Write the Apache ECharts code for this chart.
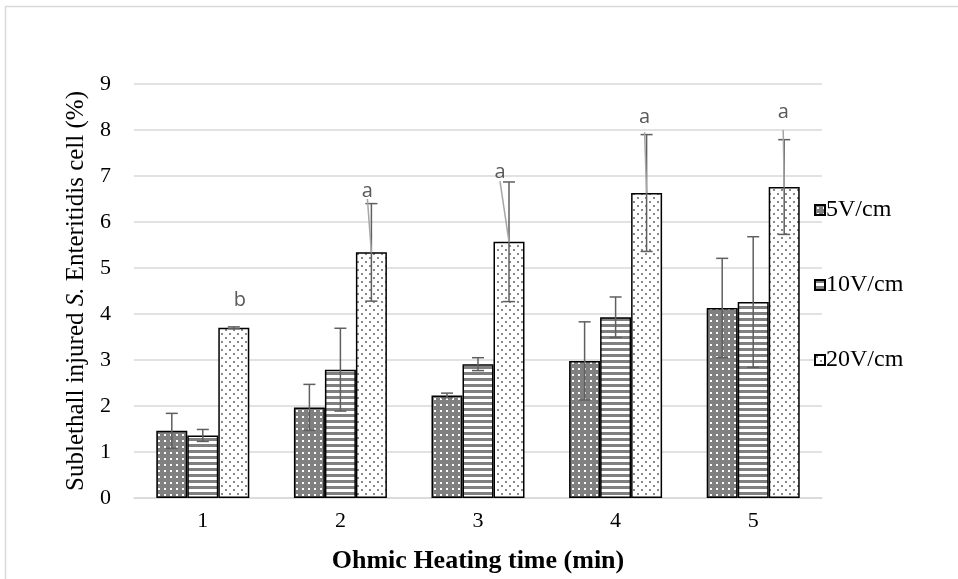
<!DOCTYPE html>
<html><head><meta charset="utf-8">
<script src="https://cdn.jsdelivr.net/npm/echarts@6/dist/echarts.min.js"></script>
<style>html,body{margin:0;padding:0;background:#fff}#c{width:958px;height:579px}</style>
</head><body><div id="c"></div>
<script>
// ---- data ----
const categories = ['1', '2', '3', '4', '5'];
const seriesNames = ['5V/cm', '10V/cm', '20V/cm'];
const v5  = [1.46, 1.97, 2.23, 2.98, 4.13];
const v10 = [1.36, 2.79, 2.91, 3.93, 4.26];
const v20 = [3.70, 5.34, 5.57, 6.63, 6.76];
const e5  = [0.38, 0.50, 0.05, 0.85, 1.08];
const e10 = [0.13, 0.90, 0.14, 0.44, 1.42];
const e20 = [0.02, 1.06, 1.30, 1.27, 1.03];
const letters = ['b', 'a', 'a', 'a', 'a'];
const letterValues = [4.29, 6.67, 7.08, 8.27, 8.38];
const leaderFrom = [null, 6.50, 6.89, 7.95, 8.00];
const yMin = 0, yMax = 9, yStep = 1;
const xTitle = 'Ohmic Heating time (min)';

// ---- styles ----
const BAR_W = 31;
const letterDx = [6, -4, -9, -2, -1];
const SERIF = '"Liberation Serif","Times New Roman",serif';

function pattern(kind) {
  const c = document.createElement('canvas');
  const ctx = c.getContext('2d');
  if (kind === 0) {
    c.width = 6; c.height = 6;
    ctx.fillStyle = '#808080'; ctx.fillRect(0, 0, 6, 6);
    ctx.fillStyle = '#ffffff'; ctx.fillRect(2, 2, 2, 2);
  } else if (kind === 1) {
    c.width = 6; c.height = 6;
    ctx.fillStyle = '#ffffff'; ctx.fillRect(0, 0, 6, 6);
    ctx.fillStyle = '#808080'; ctx.fillRect(0, 0, 6, 3);
  } else {
    c.width = 8; c.height = 8;
    ctx.fillStyle = '#ffffff'; ctx.fillRect(0, 0, 8, 8);
    ctx.fillStyle = '#8a8a8a';
    ctx.fillRect(1, 1, 2, 2); ctx.fillRect(5, 5, 2, 2);
  }
  return { image: c, repeat: 'repeat' };
}

const values = [v5, v10, v20];
const errs = [e5, e10, e20];

const barSeries = values.map((vals, s) => ({
  name: seriesNames[s],
  type: 'bar',
  data: vals,
  barWidth: BAR_W,
  barGap: '0%',
  itemStyle: { color: pattern(s), borderColor: '#000', borderWidth: 1.5 },
  emphasis: { disabled: true },
  z: 2
}));

const errSeries = values.map((vals, s) => ({
  type: 'custom',
  data: vals.map((v, i) => [i, v, errs[s][i]]),
  z: 5,
  silent: true,
  renderItem: function (params, api) {
    const i = api.value(0), v = api.value(1), e = api.value(2);
    const off = (params.seriesIndex - 3 - 1) * BAR_W;
    const top = api.coord([i, v + e]);
    const bot = api.coord([i, v - e]);
    const x = top[0] + off;
    const cap = 6;
    const st = { stroke: '#5f5f5f', lineWidth: 1.5 };
    return {
      type: 'group',
      children: [
        { type: 'line', shape: { x1: x, y1: top[1], x2: x, y2: bot[1] }, style: st },
        { type: 'line', shape: { x1: x - cap, y1: top[1], x2: x + cap, y2: top[1] }, style: st },
        { type: 'line', shape: { x1: x - cap, y1: bot[1], x2: x + cap, y2: bot[1] }, style: st }
      ]
    };
  }
}));

const letterSeries = {
  type: 'custom',
  data: letters.map((t, i) => [i, letterValues[i], v20[i], leaderFrom[i] == null ? NaN : leaderFrom[i]]),
  z: 6,
  silent: true,
  renderItem: function (params, api) {
    const i = api.value(0);
    const lp = api.coord([i, api.value(1)]);
    const bt = api.coord([i, api.value(2)]);
    const lx = lp[0] + BAR_W + letterDx[i];
    const bx = bt[0] + BAR_W;
    const children = [{
      type: 'text',
      style: { text: letters[i], x: lx, y: lp[1], align: 'center', verticalAlign: 'middle',
        fill: '#595959', font: '20px "Open Sans","Liberation Sans",sans-serif' }
    }];
    const lf = api.value(3);
    if (!isNaN(lf)) {
      const ls = api.coord([i, lf]);
      children.push({ type: 'line', shape: { x1: lx, y1: ls[1], x2: bx, y2: bt[1] },
        style: { stroke: '#a6a6a6', lineWidth: 1.5 } });
    }
    return { type: 'group', children };
  }
};

const chart = echarts.init(document.getElementById('c'));
chart.setOption({
  animation: false,
  backgroundColor: '#fff',
  graphic: [{
    type: 'rect', shape: { x: 5.5, y: 6.5, width: 1000, height: 1000 },
    style: { fill: 'none', stroke: '#d9d9d9', lineWidth: 1.5 }, silent: true
  }],
  grid: { left: 134, right: 136, top: 84, bottom: 79 },
  legend: {
    orient: 'vertical', left: 814, top: 198, itemGap: 51, padding: 0,
    itemWidth: 10, itemHeight: 10, icon: 'rect',
    data: seriesNames,
    textStyle: { fontFamily: SERIF, fontSize: 24, color: '#000', padding: [0, 0, 0, -4] }
  },
  xAxis: {
    type: 'category', data: categories,
    axisLine: { lineStyle: { color: '#d9d9d9', width: 1.5 } },
    axisTick: { show: false },
    axisLabel: { fontFamily: SERIF, fontSize: 22, color: '#000', margin: 12 },
    name: xTitle, nameLocation: 'middle', nameGap: 50,
    nameTextStyle: { fontFamily: SERIF, fontSize: 26, fontWeight: 'bold', color: '#000' }
  },
  yAxis: {
    type: 'value', min: yMin, max: yMax, interval: yStep,
    axisLine: { show: false }, axisTick: { show: false },
    splitLine: { lineStyle: { color: '#d9d9d9', width: 1.5 } },
    axisLabel: { fontFamily: SERIF, fontSize: 22, color: '#000', margin: 23 },
    name: '{n|Sublethall injured }{i|S.}{n| Enteritidis cell (%)}',
    nameLocation: 'middle', nameGap: 38, nameRotate: 90,
    nameTextStyle: {
      rich: {
        n: { fontFamily: SERIF, fontSize: 25, color: '#000' },
        i: { fontFamily: SERIF, fontSize: 25, color: '#000', fontStyle: 'italic' }
      }
    }
  },
  series: [...barSeries, ...errSeries, letterSeries]
});
</script></body></html>
